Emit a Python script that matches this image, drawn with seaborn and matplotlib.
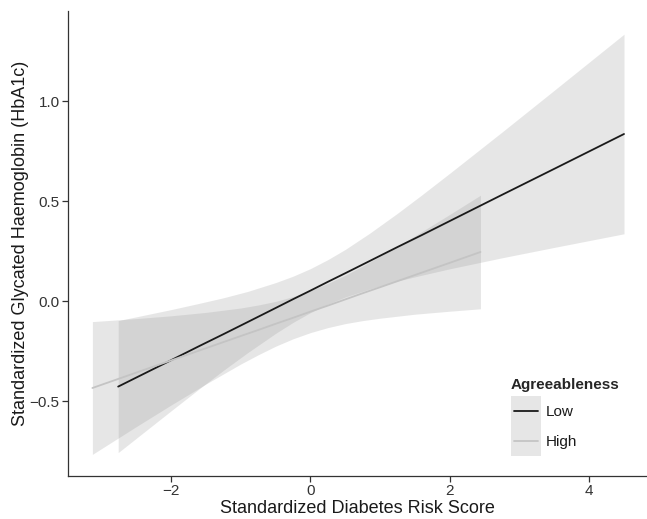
"""
Agreeableness moderation plot: HbA1c vs diabetes risk score
"""

import matplotlib
matplotlib.use('Agg')
import matplotlib.pyplot as plt
from matplotlib.patches import Rectangle
from matplotlib.lines import Line2D
import pandas as pd
import seaborn as sns

# fitted line and confidence band
low_x = [-2.76, -2.0, -1.6, -1.25, -0.9, -0.5, -0.25, 0.0, 0.25, 0.5, 0.85, 1.25, 1.6, 2.0, 2.75, 3.5, 4.5]
low_fit = [-0.428, -0.296, -0.226, -0.166, -0.105, -0.035, 0.009, 0.052, 0.096, 0.139, 0.200,
           0.270, 0.330, 0.400, 0.531, 0.661, 0.835]
low_upper = [-0.098, -0.043, -0.012, 0.016, 0.048, 0.092, 0.124, 0.162, 0.207, 0.258, 0.339,
             0.439, 0.531, 0.639, 0.845, 1.054, 1.334]
low_lower = [-0.758, -0.549, -0.440, -0.347, -0.258, -0.162, -0.107, -0.058, -0.016, 0.020, 0.060,
             0.100, 0.129, 0.161, 0.216, 0.268, 0.336]

high_x = [-3.13, -2.5, -2.0, -1.5, -1.0, -0.75, -0.5, -0.25, 0.0, 0.25, 0.5, 0.75, 1.0, 1.5, 2.0, 2.44]
high_fit = [-0.435, -0.358, -0.297, -0.236, -0.175, -0.145, -0.114, -0.084, -0.053, -0.023, 0.008,
            0.039, 0.069, 0.130, 0.191, 0.245]
high_upper = [-0.103, -0.088, -0.074, -0.057, -0.035, -0.020, -0.002, 0.022, 0.052, 0.088, 0.129,
              0.175, 0.224, 0.326, 0.433, 0.529]
high_lower = [-0.767, -0.628, -0.520, -0.415, -0.315, -0.269, -0.226, -0.189, -0.158, -0.133, -0.113,
              -0.098, -0.086, -0.066, -0.051, -0.039]

groups = ['Low', 'High']
line_colors = {'Low': '#1a1a1a', 'High': '#c4c4c4'}
x_ticks = [-2, 0, 2, 4]
y_ticks = [-0.5, 0.0, 0.5, 1.0]

sns.set_theme(style='white')
plt.rcParams['font.family'] = ['Liberation Sans', 'DejaVu Sans']


class KeyHandler:
    """grey square key with the group's line across it (ggplot style)"""
    def legend_artist(self, legend, orig_handle, fontsize, handlebox):
        x0, y0 = handlebox.xdescent, handlebox.ydescent
        w, h = handlebox.width, handlebox.height
        box = Rectangle((-x0, -y0), w, h, facecolor='#e6e6e6', edgecolor='none',
                        transform=handlebox.get_transform())
        ym = -y0 + h / 2
        ln = Line2D([-x0 + 0.1 * w, -x0 + 0.9 * w], [ym, ym], color=orig_handle.get_color(),
                    linewidth=1.3, transform=handlebox.get_transform())
        handlebox.add_artist(box)
        handlebox.add_artist(ln)
        return box


df = pd.concat([
    pd.DataFrame({'x': low_x, 'y': low_fit, 'Agreeableness': 'Low'}),
    pd.DataFrame({'x': high_x, 'y': high_fit, 'Agreeableness': 'High'}),
])

fig = plt.figure(figsize=(6.47, 5.19), dpi=100)
ax = fig.add_axes([68 / 647, 1 - 476 / 519, 1 - 68 / 647, (476 - 11) / 519])

# bands first, lines on top
ax.fill_between(low_x, low_lower, low_upper, color='#999999', alpha=0.24, linewidth=0)
ax.fill_between(high_x, high_lower, high_upper, color='#999999', alpha=0.24, linewidth=0)

sns.lineplot(data=df, x='x', y='y', hue='Agreeableness', hue_order=groups,
             palette=line_colors, linewidth=1.3, legend=False, ax=ax, sort=False)

ax.set_xlim(-3.48, 4.83)
ax.set_ylim(-0.875, 1.45)
ax.set_xticks(x_ticks)
ax.set_xticklabels(['\u22122', '0', '2', '4'])
ax.set_yticks(y_ticks)
ax.set_yticklabels(['\u22120.5', '0.0', '0.5', '1.0'])

ax.set_xlabel('Standardized Diabetes Risk Score', fontsize=13, color='#1a1a1a', labelpad=1)
ax.set_ylabel('Standardized Glycated Haemoglobin (HbA1c)', fontsize=13, color='#1a1a1a', labelpad=0.5)

for side in ['top', 'right']:
    ax.spines[side].set_visible(False)
for side in ['left', 'bottom']:
    ax.spines[side].set_color('#333333')
    ax.spines[side].set_linewidth(0.9)

ax.tick_params(axis='both', which='major', length=4, width=0.9, color='#333333',
               labelsize=11, labelcolor='#333333', pad=2, direction='out',
               bottom=True, left=True)

# legend
handles = [Line2D([], [], color=line_colors[g]) for g in groups]
leg = fig.legend(handles, groups, title='Agreeableness', loc='upper left',
                 bbox_to_anchor=(511 / 647, 1 - 378 / 519), frameon=False,
                 fontsize=11, title_fontproperties={'weight': 'bold', 'size': 11},
                 handlelength=1.95, handleheight=2.64, labelspacing=0.0,
                 handletextpad=0.3, borderpad=0.0, borderaxespad=0.0, alignment='left',
                 handler_map={Line2D: KeyHandler()})
leg._legend_box.sep = 3
for t in leg.get_texts():
    t.set_color('#1a1a1a')

fig.savefig('out.png', dpi=100)
